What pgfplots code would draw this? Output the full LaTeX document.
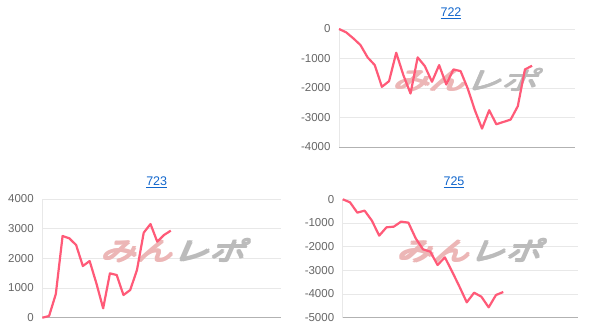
\documentclass[border=0pt]{standalone}
\usepackage{pgfplots}
\pgfplotsset{compat=1.18}
\usepackage{fontspec}
\setmainfont{Liberation Sans}
\newfontfamily\jpfont[FakeSlant=0.3]{Noto Sans CJK JP}
\definecolor{linec}{HTML}{FF5A78}
\definecolor{gridc}{HTML}{E8E8E8}
\definecolor{tickc}{HTML}{666666}
\definecolor{linkc}{HTML}{1166CC}
\definecolor{wmpink}{HTML}{ECB6B6}
\definecolor{wmgray}{HTML}{BBBBBB}
\pgfplotsset{
  mini/.style={
    scale only axis,
    anchor=south west,
    width=#1,
    axis x line*=bottom,
    axis y line*=left,
    xtick=\empty,
    ymajorgrids,
    grid style={gridc, line width=0.8pt},
    axis line style={gridc, line width=0.8pt},
    x axis line style={draw=black!30, line width=0.8pt},
    major tick length=0pt,
    tick label style={font=\fontsize{11.5}{13}\selectfont, text=tickc},
    /pgf/number format/assume math mode=true,
    /pgf/number format/.cd, 1000 sep={}, /pgfplots/.cd,
    yticklabel style={xshift=-5pt},
    clip=false,
    xmin=0,
  },
}
\newcommand{\wmtext}{\scalebox{1.45}[1]{\jpfont\fontsize{25}{27}\selectfont\textcolor{wmpink}{みん}\textcolor{wmgray}{レポ}}}
\newcommand{\wm}[1]{%
\node[anchor=center, inner sep=0pt, xshift=-0.7pt, yshift=-0.7pt] at (#1) {\wmtext};
\node[anchor=center, inner sep=0pt, xshift=0.7pt, yshift=-0.7pt] at (#1) {\wmtext};
\node[anchor=center, inner sep=0pt, xshift=-0.7pt, yshift=0.7pt] at (#1) {\wmtext};
\node[anchor=center, inner sep=0pt, xshift=0.7pt, yshift=0.7pt] at (#1) {\wmtext};
\node[anchor=center, inner sep=0pt] at (#1) {\wmtext};
}
\begin{document}
\begin{tikzpicture}[x=1pt,y=1pt]
\path (0,0) rectangle (607,336);
% 722
\begin{axis}[mini=236pt, at={(339pt,189pt)}, height=118pt, xmax=33,
  ymin=-4000, ymax=0, ytick={-4000,-3000,-2000,-1000,0}]
\wm{axis cs:17.6,-1730}
\addplot[linec, line width=2.2pt, line join=round] coordinates {
(0,0) (1,-113) (2,-317) (3,-544) (4,-963) (5,-1224) (6,-1960) (7,-1768)
(8,-805) (9,-1564) (10,-2187) (11,-963) (12,-1258) (13,-1790) (14,-1224)
(15,-1881) (16,-1371) (17,-1428) (18,-2017) (19,-2754) (20,-3377) (21,-2754)
(22,-3229) (23,-3150) (24,-3071) (25,-2618) (26,-1371) (27,-1246)};
\end{axis}
\node[text=linkc, font=\fontsize{12.5}{14}\selectfont] at (451,323) {\underline{722}};
% 723
\begin{axis}[mini=238.7pt, at={(42.3pt,18.3pt)}, height=118.7pt, xmax=35.3,
  ymin=0, ymax=4000, ytick={0,1000,2000,3000,4000}]
\wm{axis cs:19.25,2265}
\addplot[linec, line width=2.2pt, line join=round] coordinates {
(0,0) (1,56) (2,798) (3,2753) (4,2674) (5,2449) (6,1742) (7,1910) (8,1157)
(9,315) (10,1494) (11,1438) (12,764) (13,933) (14,1607) (15,2865) (16,3157)
(17,2562) (18,2787) (19,2933)};
\end{axis}
\node[text=linkc, font=\fontsize{12.5}{14}\selectfont] at (156.7,153.3) {\underline{723}};
% 725
\begin{axis}[mini=235pt, at={(342.7pt,18.3pt)}, height=118.4pt, xmax=32.2,
  ymin=-5000, ymax=0, ytick={-5000,-4000,-3000,-2000,-1000,0}]
\wm{axis cs:17.3,-2160}
\addplot[linec, line width=2.2pt, line join=round] coordinates {
(0,0) (1,-127) (2,-563) (3,-479) (4,-901) (5,-1535) (6,-1183) (7,-1155)
(8,-944) (9,-986) (10,-1648) (11,-2113) (12,-2211) (13,-2775) (14,-2451)
(15,-3056) (16,-3690) (17,-4352) (18,-3944) (19,-4113) (20,-4563) (21,-4042)
(22,-3915)};
\end{axis}
\node[text=linkc, font=\fontsize{12.5}{14}\selectfont] at (454,153.3) {\underline{725}};
\end{tikzpicture}
\end{document}
